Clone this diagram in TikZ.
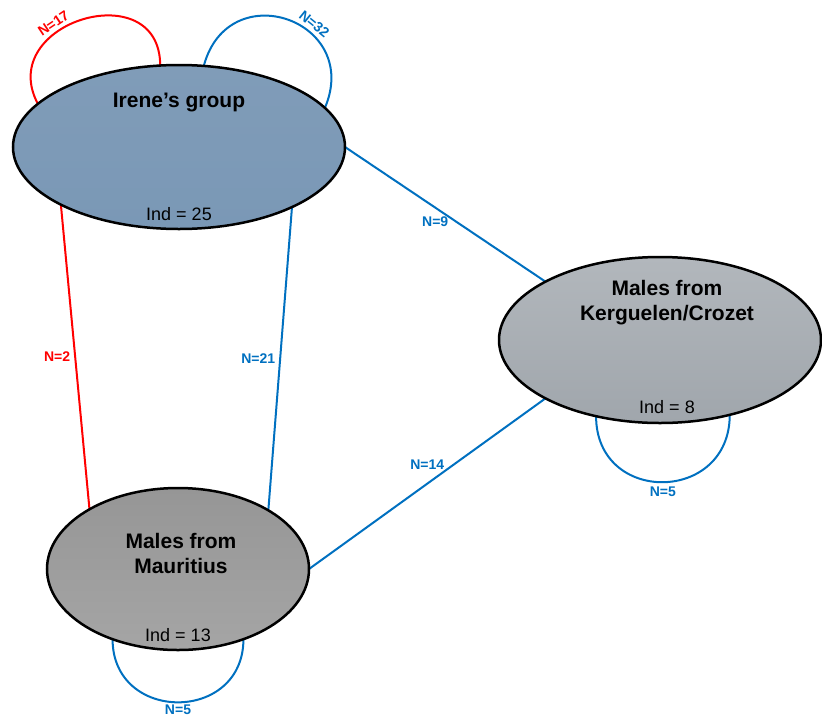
\documentclass[tikz,border=0pt]{standalone}
\usepackage{fontspec}
\setmainfont{Liberation Sans}
\usepackage{tikz}
\usetikzlibrary{shapes,positioning,backgrounds}

\definecolor{linkblue}{RGB}{0,112,192}
\definecolor{linkred}{RGB}{255,0,0}

\begin{document}
\begin{tikzpicture}[x=1pt, y=1pt,
	groupnode/.style={ellipse, draw=black, line width=2.5pt, inner sep=0pt, outer sep=0pt},
	titlenode/.style={font=\bfseries\fontsize{21}{25}\selectfont, align=center, inner sep=0pt},
	indnode/.style={font=\fontsize{18}{22}\selectfont, inner sep=0pt},
	bluelink/.style={draw=linkblue, line width=2pt},
	redlink/.style={draw=linkred, line width=2pt},
	countlabel/.style={font=\bfseries\fontsize{14}{16}\selectfont, inner sep=2pt},
	]
	\useasboundingbox (0,0) rectangle (822,-721);
	
	%Nodes
	\node[groupnode, minimum width=332pt, minimum height=164pt,
		top color={rgb,255:red,128;green,156;blue,184}, middle color={rgb,255:red,152;green,160;blue,168},
		bottom color={rgb,255:red,122;green,152;blue,182}] (Irene) at (179,-147) {};
	\node[groupnode, minimum width=322pt, minimum height=166pt,
		top color={rgb,255:red,178;green,183;blue,188}, middle color={rgb,255:red,196;green,199;blue,202},
		bottom color={rgb,255:red,160;green,166;blue,172}] (Kerguelen) at (660,-340) {};
	\node[groupnode, minimum width=262pt, minimum height=162pt,
		top color={rgb,255:red,150;green,150;blue,150}, middle color={rgb,255:red,135;green,135;blue,135},
		bottom color={rgb,255:red,165;green,165;blue,165}] (Mauritius) at (178,-569) {};
	
	\node[titlenode] (IreneTitle) at ([yshift=45pt]Irene.center) {Irene's group};
	\node[indnode] (IreneInd) at ([yshift=-67pt]Irene.center) {Ind = 25};
	\node[titlenode] (KerguelenTitle) at ([xshift=7pt,yshift=37pt]Kerguelen.center) {Males from\\Kerguelen/Crozet};
	\node[indnode] (KerguelenInd) at ([xshift=7pt,yshift=-67pt]Kerguelen.center) {Ind = 8};
	\node[titlenode] (MauritiusTitle) at ([xshift=3pt,yshift=16pt]Mauritius.center) {Males from\\Mauritius};
	\node[indnode] (MauritiusInd) at ([yshift=-66pt]Mauritius.center) {Ind = 13};
	
	%Lines
	\begin{scope}[on background layer]
	\draw[redlink] (Irene.163) to[out=118, in=90, looseness=1.85]
		node[countlabel, pos=0.38, sloped, above=1pt, text=linkred] {N=17} (Irene.103);
	\draw[bluelink] (Irene.73) to[out=75, in=67, looseness=1.9]
		node[countlabel, pos=0.62, sloped, above=1pt, text=linkblue] {N=32} (Irene.15);
	\draw[redlink] (Irene.206) -- node[countlabel, left=2pt, text=linkred] {N=2} (Mauritius.146);
	\draw[bluelink] (Irene.332) -- node[countlabel, left=2pt, text=linkblue] {N=21} (Mauritius.33);
	\draw[bluelink] (Irene.east) -- node[countlabel, pos=0.45, below=6pt, text=linkblue] {N=9} (Kerguelen.153);
	\draw[bluelink] (Mauritius.east) -- node[countlabel, above=11pt, text=linkblue] {N=14} (Kerguelen.207);
	\draw[bluelink] (Kerguelen.230) to[out=-90, in=-90, looseness=1.7]
		node[countlabel, below=2pt, text=linkblue] {N=5} (Kerguelen.313);
	\draw[bluelink] (Mauritius.227) to[out=-90, in=-90, looseness=1.65]
		node[countlabel, below, text=linkblue] {N=5} (Mauritius.313);
	\end{scope}
	
\end{tikzpicture}
\end{document}
